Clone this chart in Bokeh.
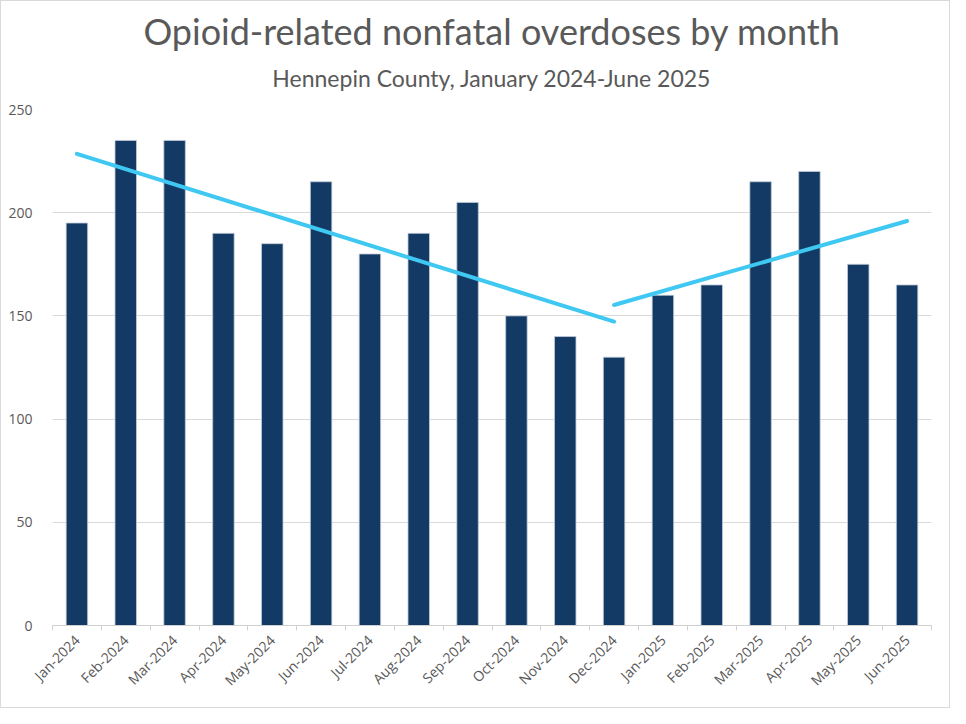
from math import pi
from bokeh.plotting import figure
from bokeh.models import Title, FixedTicker
from bokeh.embed import file_html
from bokeh.resources import INLINE

months = ["Jan-2024", "Feb-2024", "Mar-2024", "Apr-2024", "May-2024", "Jun-2024",
          "Jul-2024", "Aug-2024", "Sep-2024", "Oct-2024", "Nov-2024", "Dec-2024",
          "Jan-2025", "Feb-2025", "Mar-2025", "Apr-2025", "May-2025", "Jun-2025"]
overdoses = [195, 235, 235, 190, 185, 215, 180, 190, 205, 150, 140, 130,
             160, 165, 215, 220, 175, 165]

# trend lines (endpoints)
trend_2024_months = ["Jan-2024", "Dec-2024"]
trend_2024_values = [228.5, 147.2]
trend_2025_months = ["Dec-2024", "Jun-2025"]
trend_2025_values = [155.3, 196.0]

y_ticks = [0, 50, 100, 150, 200, 250]

GRAY = "#595959"
BAR = "#133a65"
TREND = "#3ec8f2"

pos = list(range(len(months)))

p = figure(x_range=(-0.5, len(months) - 0.5), y_range=(0, 250),
           output_backend="svg", toolbar_location=None, tools="",
           frame_width=879, frame_height=516,
           min_border_left=51, min_border_right=18, min_border_top=108,
           min_border_bottom=82)

p.title.text = ""
p.add_layout(Title(text="Hennepin County, January 2024-June 2025", align="center",
                   text_font="Lato", text_font_size="23px", text_font_style="normal",
                   text_color=GRAY, standoff=32, vertical_align="top"), "above")
p.add_layout(Title(text="Opioid-related nonfatal overdoses by month", align="center",
                   text_font="Lato", text_font_size="36px", text_font_style="normal",
                   text_color=GRAY, standoff=-10, vertical_align="bottom"), "above")

p.vbar(x=pos, top=overdoses, width=0.44, fill_color=BAR,
       line_color="#c3cdd9", line_width=0.8)

p.line([months.index(m) for m in trend_2024_months], trend_2024_values,
       line_color=TREND, line_width=4, line_cap="round")
p.line([months.index(m) for m in trend_2025_months], trend_2025_values,
       line_color=TREND, line_width=4, line_cap="round")

# x axis: labels at bar centres, ticks between bars
p.xaxis.ticker = FixedTicker(ticks=pos, minor_ticks=[i - 0.5 for i in range(len(months) + 1)])
p.xaxis.major_label_overrides = {i: m for i, m in enumerate(months)}
p.xaxis.major_label_orientation = pi / 4
p.xaxis.major_tick_line_color = None
p.xaxis.minor_tick_line_color = "#d0d0d0"
p.xaxis.minor_tick_out = 5
p.xaxis.minor_tick_in = 0
p.xaxis.axis_line_color = "#d0d0d0"
p.xaxis.major_label_text_font = "Open Sans"
p.xaxis.major_label_text_font_size = "14px"
p.xaxis.major_label_text_color = GRAY
p.xaxis.major_label_standoff = 6
p.xgrid.grid_line_color = None

p.yaxis.ticker = FixedTicker(ticks=y_ticks)
p.yaxis.axis_line_color = None
p.yaxis.major_tick_line_color = None
p.yaxis.minor_tick_line_color = None
p.yaxis.major_label_text_font = "Open Sans"
p.yaxis.major_label_text_font_size = "14px"
p.yaxis.major_label_text_color = GRAY
p.yaxis.major_label_standoff = 14
p.ygrid.grid_line_color = "#d9d9d9"
p.ygrid.ticker = FixedTicker(ticks=y_ticks[1:])

p.outline_line_color = None
p.styles = {"border": "1px solid #d9d9d9"}

open("out.html", "w").write(file_html(p, INLINE))
